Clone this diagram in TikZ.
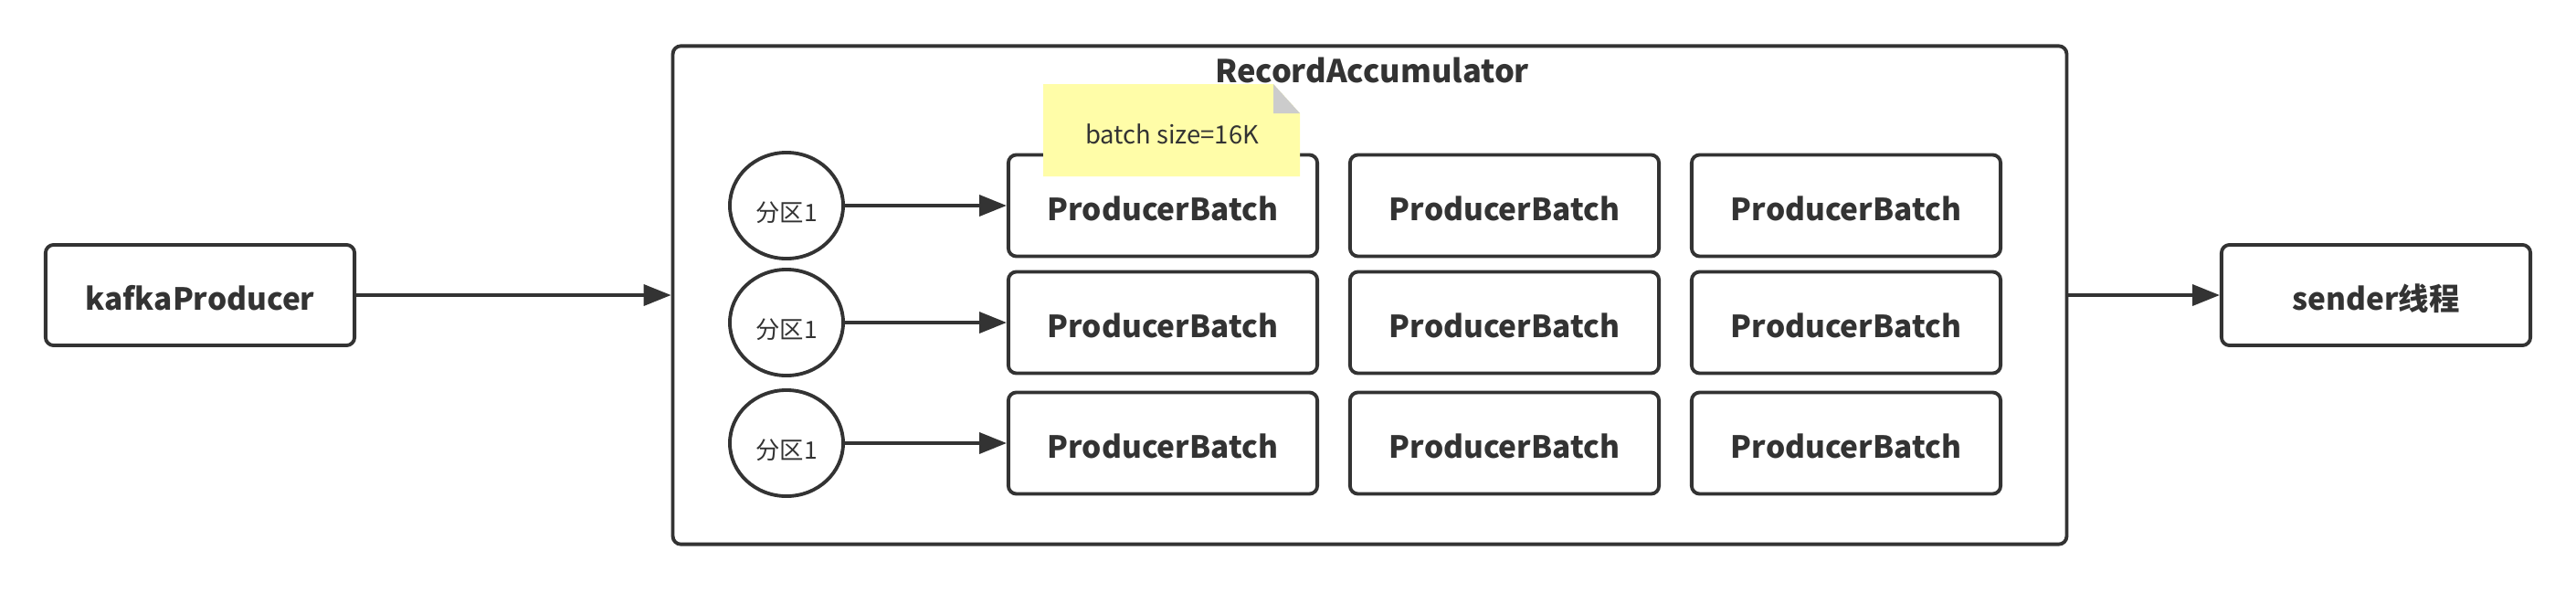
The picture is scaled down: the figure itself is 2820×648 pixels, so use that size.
\documentclass[tikz,border=0pt]{standalone}
\usepackage{fontspec}
\setmainfont{Noto Sans CJK SC}
\usetikzlibrary{arrows.meta,shapes.geometric}
\definecolor{ink}{HTML}{333333}
\definecolor{notefill}{HTML}{FFFDA8}
\definecolor{notefold}{HTML}{CCCCCC}
\begin{document}
\begin{tikzpicture}[
    x=0.01cm, y=-0.01cm,
    every node/.style={text=ink},
    box/.style={draw=ink, line width=1.1pt, rounded corners=2.5pt, font=\bfseries\fontsize{9.5}{11}\selectfont, text height=0.95em, text depth=0pt},
    batch/.style={box, minimum width=3.38cm, minimum height=1.11cm},
    part/.style={ellipse, draw=ink, line width=1.1pt, minimum width=1.24cm, minimum height=1.16cm, inner sep=0pt, font=\fontsize{7.5}{9}\selectfont, text height=1em, text depth=0pt},
    arr/.style={-{Triangle[length=8.5pt,width=6.5pt]}, draw=ink, line width=1.1pt}
]
\useasboundingbox (0,0) rectangle (2820,648);
% producer and sender
\node[box, minimum width=3.38cm, minimum height=1.1cm] (kafka) at (219,323) {kafkaProducer};
\node[box, minimum width=3.38cm, minimum height=1.1cm] (sender) at (2601,323) {sender线程};
% RecordAccumulator
\node[draw=ink, line width=1.1pt, rounded corners=2.5pt, minimum width=15.25cm, minimum height=5.45cm] (acc) at (1499.5,323) {};
\node[font=\bfseries\fontsize{9.8}{12}\selectfont] (acctitle) at (1502,77) {RecordAccumulator};
% partitions
\node[part] (p1) at (861,225) {分区1};
\node[part] (p2) at (861,353) {分区1};
\node[part] (p3) at (861,485) {分区1};
% batches
\foreach \r/\y in {1/225,2/353,3/485}{
  \node[batch] (b\r1) at (1273,\y) {ProducerBatch};
  \node[batch] (b\r2) at (1647,\y) {ProducerBatch};
  \node[batch] (b\r3) at (2021,\y) {ProducerBatch};
}
% note
\fill[notefill] (1142,92) -- (1394,92) -- (1423,124) -- (1423,193) -- (1142,193) -- cycle;
\fill[notefold] (1394,92) -- (1394,124) -- (1423,124) -- cycle;
\node[font=\fontsize{7.8}{10}\selectfont] (note) at (1283,147) {batch size=16K};
% arrows
\draw[arr] (kafka.east) -- (acc.west |- kafka.east);
\draw[arr] (acc.east |- sender.west) -- (sender.west);
\foreach \r in {1,2,3}{
  \draw[arr] (p\r.east) -- (b\r1.west);
}
\end{tikzpicture}
\end{document}
